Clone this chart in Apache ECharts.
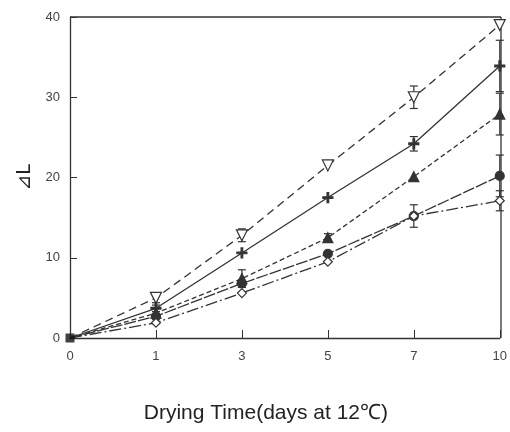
<!DOCTYPE html>
<html lang="en">
<head>
    <meta charset="UTF-8">
    <title>Drying Time</title>
    <script src="https://cdn.jsdelivr.net/npm/echarts@6/dist/echarts.min.js"></script>
    <style>
        html,body{margin:0;padding:0;background:#fff}
        #chart{width:510px;height:432px}
    </style>
</head>
<body>
    <div id="chart"></div>
    <script>
        var days = ['0', '1', '3', '5', '7', '10'];
        var yTicks = [0, 10, 20, 30, 40];

        var openTri = [0, 5.0, 12.8, 21.5, 30.0, 39.0];
        var plusLine = [0, 3.7, 10.6, 17.5, 24.2, 33.9];
        var fillTri = [0, 3.1, 7.4, 12.5, 20.1, 27.9];
        var fillCircle = [0, 2.7, 6.8, 10.5, 15.2, 20.2];
        var openDiamond = [0, 1.9, 5.6, 9.5, 15.2, 17.1];

        // half-length of the error bars
        var openTriErr = [0, 0.6, 0.8, 0, 1.4, 0];
        var plusErr = [0, 0.4, 0, 0, 0.9, 3.2];
        var fillTriErr = [0, 0, 1.1, 0.5, 0, 2.6];
        var fillCircleErr = [0, 0, 0, 0, 1.4, 2.6];
        var openDiamondErr = [0, 0, 0, 0, 0, 1.25];

        var ink = '#333';
        var mychart = echarts.init(document.getElementById('chart'));

        function errSeries(vals, errs) {
            var d = [];
            for (var i = 0; i < vals.length; i++) {
                if (errs[i] > 0) d.push([i, vals[i] - errs[i], vals[i] + errs[i]]);
            }
            return {
                type: 'custom',
                silent: true,
                z: 1,
                data: d,
                renderItem: function (params, api) {
                    var lo = api.coord([api.value(0), api.value(1)]);
                    var hi = api.coord([api.value(0), api.value(2)]);
                    var w = 4;
                    var st = {stroke: ink, lineWidth: 1.2};
                    return {
                        type: 'group',
                        children: [
                            {type: 'line', shape: {x1: lo[0], y1: lo[1], x2: hi[0], y2: hi[1]}, style: st},
                            {type: 'line', shape: {x1: lo[0] - w, y1: lo[1], x2: lo[0] + w, y2: lo[1]}, style: st},
                            {type: 'line', shape: {x1: hi[0] - w, y1: hi[1], x2: hi[0] + w, y2: hi[1]}, style: st}
                        ]
                    };
                }
            };
        }

        function lineSeries(name, data, symbol, size, filled, dash, rotate) {
            // the origin is drawn as a black square by its own series
            var pts = data.map(function (v, i) {
                return i === 0 ? {value: v, symbol: 'none'} : v;
            });
            return {
                name: name,
                type: 'line',
                data: pts,
                symbol: symbol,
                symbolSize: size,
                symbolRotate: rotate || 0,
                showSymbol: true,
                z: 3,
                lineStyle: {color: ink, width: 1.3, type: dash},
                itemStyle: {color: filled ? ink : '#fff', borderColor: ink, borderWidth: 1.2, opacity: 1},
                emphasis: {disabled: true}
            };
        }

        var option = {
            animation: false,
            backgroundColor: '#fff',
            grid: {left: 70, right: 9, top: 17, bottom: 94},
            xAxis: {
                type: 'category',
                data: days,
                boundaryGap: false,
                name: 'Drying Time(days at 12\u2103)',
                nameLocation: 'middle',
                nameGap: 65,
                nameTextStyle: {color: '#222', fontSize: 21, fontFamily: 'Liberation Sans', padding: [0, 38, 0, 0]},
                axisLine: {lineStyle: {color: ink, width: 1.3}},
                axisTick: {inside: true, length: 8, alignWithLabel: true, lineStyle: {color: ink}},
                axisLabel: {color: '#444', fontSize: 13, margin: 12, fontFamily: 'Liberation Sans'},
                splitLine: {show: false}
            },
            yAxis: {
                type: 'value',
                min: yTicks[0],
                max: yTicks[yTicks.length - 1],
                interval: 10,
                name: '\u22BFL',
                nameLocation: 'middle',
                nameGap: 32,
                nameRotate: 90,
                nameTextStyle: {color: '#222', fontSize: 19, fontFamily: 'DejaVu Sans'},
                axisLine: {show: true, lineStyle: {color: ink, width: 1.3}},
                axisTick: {show: true, inside: true, length: 7, lineStyle: {color: ink}},
                axisLabel: {color: '#444', fontSize: 13, margin: 10, fontFamily: 'Liberation Sans'},
                splitLine: {show: false}
            },
            series: [
                lineSeries('openTri', openTri, 'triangle', 11, false, [8, 5], 180),
                lineSeries('plus', plusLine, 'path://M-1,-6H1V-1H6V1H1V6H-1V1H-6V-1H-1Z', 10, true, 'solid'),
                lineSeries('fillTri', fillTri, 'triangle', 10, true, [5, 3]),
                lineSeries('fillCircle', fillCircle, 'circle', 9, true, [12, 2]),
                lineSeries('openDiamond', openDiamond, 'diamond', 9, false, [12, 3, 2, 3]),
                errSeries(openTri, openTriErr),
                errSeries(plusLine, plusErr),
                errSeries(fillTri, fillTriErr),
                errSeries(fillCircle, fillCircleErr),
                errSeries(openDiamond, openDiamondErr),
                {
                    type: 'scatter',
                    data: [[0, 0]],
                    symbol: 'rect',
                    symbolSize: 9,
                    z: 5,
                    itemStyle: {color: '#111'}
                }
            ],
            graphic: [
                {
                    type: 'line',
                    shape: {x1: 70, y1: 17, x2: 501, y2: 17},
                    style: {stroke: ink, lineWidth: 1.3}
                },
                {
                    type: 'line',
                    shape: {x1: 501, y1: 17, x2: 501, y2: 338},
                    style: {stroke: ink, lineWidth: 1.3}
                }
            ]
        };
        mychart.setOption(option);
    </script>
</body>
</html>
